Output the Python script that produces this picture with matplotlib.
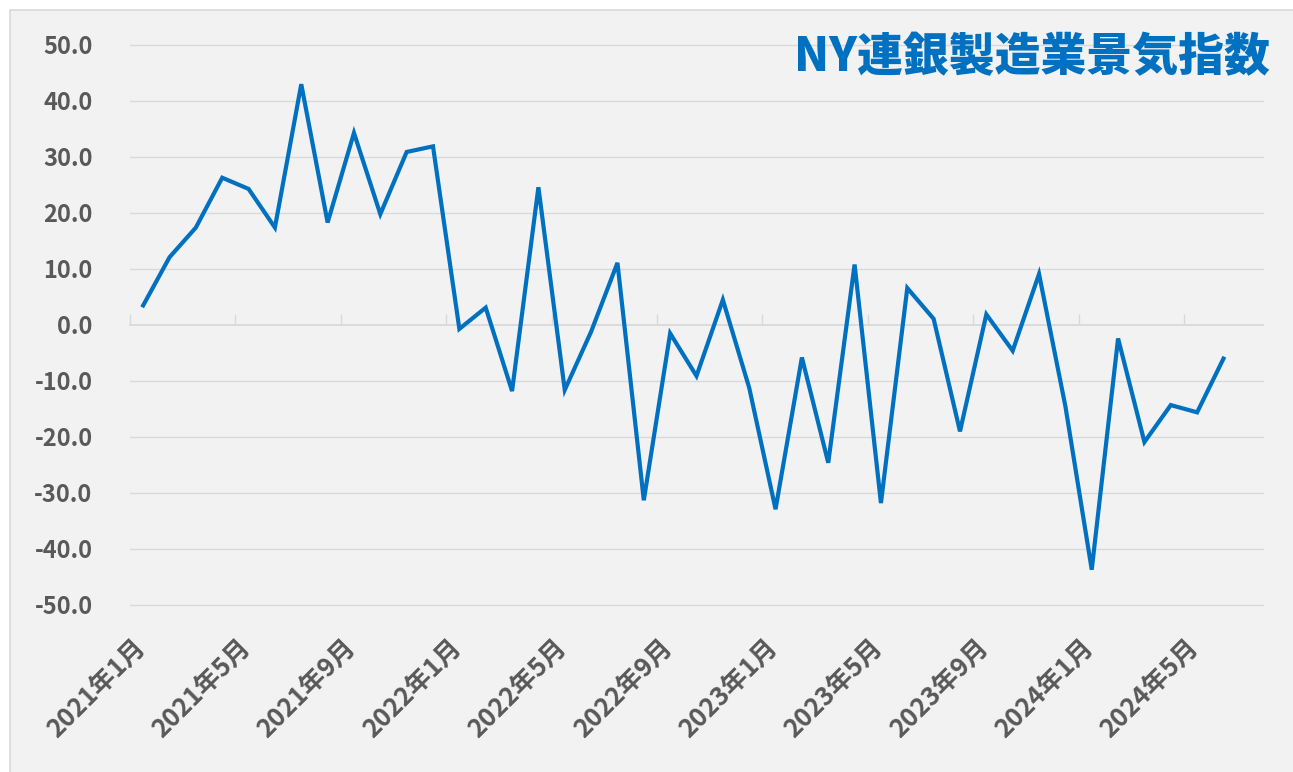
import matplotlib.pyplot as plt
import matplotlib.transforms as mtransforms
from matplotlib.patches import Rectangle

plt.rcParams['font.family'] = ['Noto Sans CJK JP', 'DejaVu Sans']

# monthly index values, 2021/1 - 2024/6
months = []
for y in range(2021, 2025):
    for m in range(1, 13):
        months.append(f'{y}年{m}月')
months = months[:43]  # last slot (2024/7) has no value yet

values = [3.5, 12.1, 17.4, 26.3, 24.3, 17.4, 43.0, 18.3, 34.3, 19.8, 30.9, 31.9,
          -0.7, 3.1, -11.8, 24.6, -11.6, -1.2, 11.1, -31.3, -1.5, -9.1, 4.5, -11.2,
          -32.9, -5.8, -24.6, 10.8, -31.8, 6.6, 1.1, -19.0, 1.9, -4.6, 9.1, -14.5,
          -43.7, -2.4, -20.9, -14.3, -15.6, -6.0]

yticks = [50, 40, 30, 20, 10, 0, -10, -20, -30, -40, -50]
title = 'NY連銀製造業景気指数'

fig = plt.figure(figsize=(12.93, 7.72), dpi=100, facecolor='white')
fig.patches.append(Rectangle((10 / 1293, -0.01), 1.02, 1 - 10 / 772 + 0.01,
                             transform=fig.transFigure, facecolor='#f2f2f2',
                             edgecolor='#d9d9d9', linewidth=1.2, zorder=-1))

ax = fig.add_axes([130 / 1293, 167 / 772, 1133 / 1293, 560 / 772])
ax.set_facecolor('none')

x = list(range(len(values)))
ax.plot(x, values, color='#0070c0', linewidth=3, solid_joinstyle='miter', zorder=3)

ax.set_xlim(-0.5, len(months) - 0.5)
ax.set_ylim(-50, 50)
ax.set_yticks(yticks)
ax.set_yticklabels([f'{v:.1f}' for v in yticks])
for v in yticks:
    if v != 0:
        ax.axhline(v, color='#d9d9d9', linewidth=1, zorder=1, clip_on=False)

for s in ax.spines.values():
    s.set_visible(False)

ax.tick_params(axis='y', length=0, pad=27, labelsize=17, labelcolor='#595959')
for t in ax.get_yticklabels():
    t.set_fontweight('bold')

label_pos = list(range(0, len(months), 4))
ax.set_xticks(label_pos)
ax.set_xticklabels([months[i] for i in label_pos], rotation=45, ha='right',
                   va='top', rotation_mode='anchor', fontsize=18.5,
                   fontweight='bold', color='#595959')
ax.tick_params(axis='x', length=0, pad=24)
shift = mtransforms.ScaledTranslation(-11 / 100, 4 / 100, fig.dpi_scale_trans)
for t in ax.get_xticklabels():
    t.set_transform(t.get_transform() + shift)

# category axis drawn at zero
sec = ax.secondary_xaxis(0.5)
sec.set_xticks([i - 0.5 for i in range(0, 41, 4)])
sec.set_xticklabels([])
sec.tick_params(axis='x', direction='out', length=8, width=1, color='#d9d9d9')
for s in sec.spines.values():
    s.set_color('#d9d9d9')
    s.set_linewidth(1.3)

fig.text(1270 / 1293, 1 - 58 / 772, title, ha='right', va='center',
         fontsize=33, fontweight='black', color='#0070c0')

fig.savefig('out.png', dpi=100, facecolor=fig.get_facecolor())
